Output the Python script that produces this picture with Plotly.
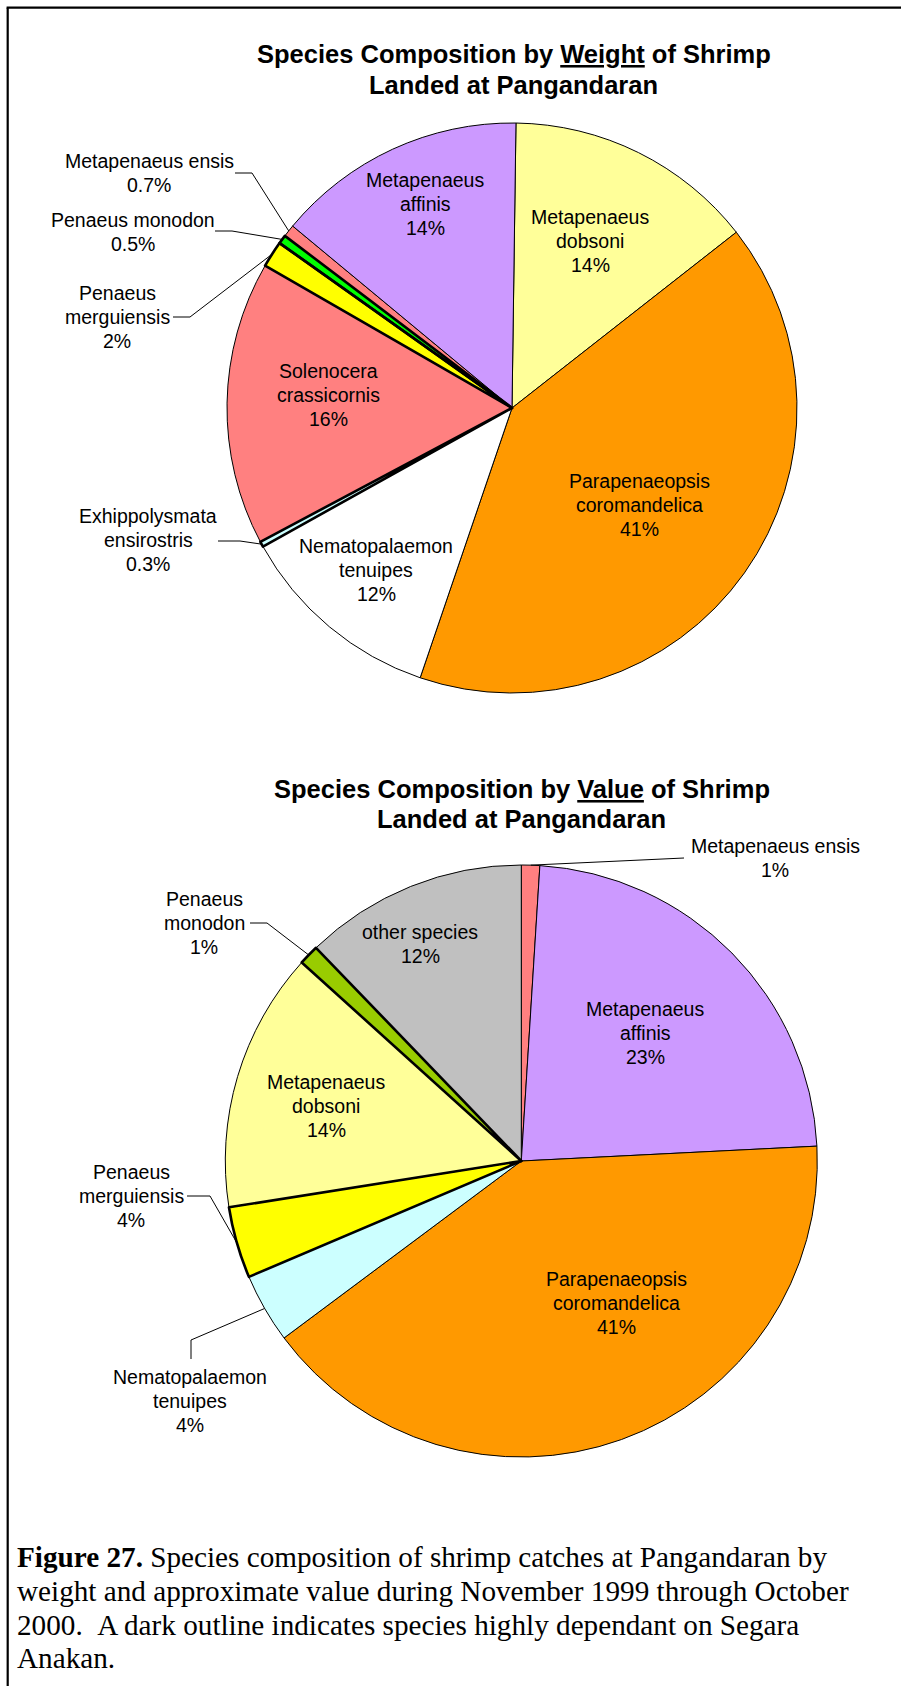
import math
import plotly.graph_objects as go

W, H = 901, 1686

# ---------------- data ----------------
weight_species = ["Metapenaeus dobsoni", "Parapenaeopsis coromandelica", "Nematopalaemon tenuipes",
                  "Exhippolysmata ensirostris", "Solenocera crassicornis", "Penaeus merguiensis",
                  "Penaeus monodon", "Metapenaeus ensis", "Metapenaeus affinis"]
weight_pct = [14.2, 40.8, 11.7, 0.3, 16.1, 1.5, 0.5, 0.7, 14.2]
weight_dependent = [False, False, False, True, False, True, True, False, False]

value_species = ["Metapenaeus ensis", "Metapenaeus affinis", "Parapenaeopsis coromandelica",
                 "Nematopalaemon tenuipes", "Penaeus merguiensis", "Metapenaeus dobsoni",
                 "Penaeus monodon", "other species"]
value_pct = [1.0, 23.2, 40.6, 3.8, 3.9, 14.2, 1.1, 12.2]
value_dependent = [False, False, False, False, True, False, True, False]

weight_title = ["Species Composition by <u>Weight</u> of Shrimp", "Landed at Pangandaran"]
value_title = ["Species Composition by <u>Value</u> of Shrimp", "Landed at Pangandaran"]
caption_lines = ["<b>Figure 27.</b> Species composition of shrimp catches at Pangandaran by",
                 "weight and approximate value during November 1999 through October",
                 "2000. \u00a0A dark outline indicates species highly dependant on Segara",
                 "Anakan."]

# ---------------- styles ----------------
weight_colors = ["#FFFF99", "#FF9900", "#FFFFFF", "#CCFFFF", "#FF8080", "#FFFF00", "#00FF00", "#FF8080", "#CC99FF"]
value_colors = ["#FF8080", "#CC99FF", "#FF9900", "#CCFFFF", "#FFFF00", "#FFFF99", "#99CC00", "#C0C0C0"]
weight_wrap = [True, True, True, True, True, True, False, False, True]
value_wrap = [False, True, True, True, True, True, True, False]

# pie geometry (pixels): center x, center y, radius, rotation
weight_geo = (512.0, 408.0, 285.0, 0.8)
value_geo = (521.3, 1161.0, 296.0, 0.0)

# label block centres (pixels)
weight_label_pos = [(590, 241), (639, 505), (376, 570), (148, 540), (328, 395),
                    (117, 317), (133, 232), (149, 173), (425, 204)]
value_label_pos = [(775, 858), (645, 1033), (616, 1303), (190, 1401), (131, 1196),
                   (326, 1106), (204, 923), (420, 944)]
# leader lines: intermediate points, ending at the slice edge
weight_leaders = {3: [(218, 541), (240, 541)], 5: [(173, 317), (190, 317)],
                  6: [(215, 231), (232, 231)], 7: [(235, 173), (252, 173)]}
value_leaders = {0: [(684, 858)], 6: [(250, 923), (267, 923)],
                 4: [(187, 1196), (210, 1196)], 3: [(191, 1359), (191, 1340)]}

LABEL_FONT = dict(family="Liberation Sans, Arial, sans-serif", size=19.5, color="black")
TITLE_FONT = dict(family="Liberation Sans, Arial, sans-serif", size=25.5, color="black")
CAP_FONT = dict(family="Liberation Serif, Times New Roman, serif", size=29.2, color="black")
LINE_H = 23.8


def px(x):
    return x / W


def py(y):
    return 1 - y / H


def fmt_pct(v):
    return f"{v:.1f}%" if v < 1 else f"{int(v + 0.5)}%"


fig = go.Figure()
annotations = []
shapes = []


def add_pie(names, vals, colors, dep, geo):
    cx, cy, r, rot = geo
    dom = dict(x=[px(cx - r), px(cx + r)], y=[py(cy + r), py(cy - r)])
    fig.add_trace(go.Pie(labels=names, values=vals, sort=False, direction="clockwise", rotation=rot,
                         marker=dict(colors=colors, line=dict(color="black", width=1)),
                         textinfo="none", domain=dom, showlegend=False,
                         hovertemplate="%{label}: %{value}%<extra></extra>"))
    fig.add_trace(go.Pie(labels=names, values=vals, sort=False, direction="clockwise", rotation=rot,
                         marker=dict(colors=["rgba(0,0,0,0)"] * len(vals),
                                     line=dict(color="black", width=[2.6 if d else 0 for d in dep])),
                         textinfo="none", domain=dom, showlegend=False, hoverinfo="skip"))


def edge_point(vals, idx, geo):
    cx, cy, r, rot = geo
    tot = sum(vals)
    start = sum(vals[:idx])
    mid = rot + 360.0 * (start + vals[idx] / 2) / tot
    a = math.radians(mid)
    return (cx + r * math.sin(a), cy - r * math.cos(a))


def add_labels(names, vals, wrap, pos):
    for name, v, w, (lx, ly) in zip(names, vals, wrap, pos):
        lines = (name.split(" ") if w else [name]) + [fmt_pct(v)]
        n = len(lines)
        for i, t in enumerate(lines):
            yy = ly + (i - (n - 1) / 2) * LINE_H
            annotations.append(dict(x=px(lx), y=py(yy), xref="paper", yref="paper", text=t,
                                    showarrow=False, xanchor="center", yanchor="middle", font=LABEL_FONT))


def add_leaders(vals, leaders, geo):
    for idx, pts in leaders.items():
        e = edge_point(vals, idx, geo)
        path_pts = list(pts) + [e]
        for (x0, y0), (x1, y1) in zip(path_pts[:-1], path_pts[1:]):
            shapes.append(dict(type="line", xref="paper", yref="paper", x0=px(x0), y0=py(y0),
                               x1=px(x1), y1=py(y1), line=dict(color="black", width=1)))


def add_title(lines, x, ys):
    for t, yy in zip(lines, ys):
        annotations.append(dict(x=px(x), y=py(yy), xref="paper", yref="paper", text="<b>" + t + "</b>",
                                showarrow=False, xanchor="center", yanchor="middle", font=TITLE_FONT))


add_pie(weight_species, weight_pct, weight_colors, weight_dependent, weight_geo)
add_pie(value_species, value_pct, value_colors, value_dependent, value_geo)
add_labels(weight_species, weight_pct, weight_wrap, weight_label_pos)
add_labels(value_species, value_pct, value_wrap, value_label_pos)
add_leaders(weight_pct, weight_leaders, weight_geo)
add_leaders(value_pct, value_leaders, value_geo)
add_title(weight_title, 513.5, [53.5, 85])
add_title(value_title, 521.5, [788.5, 818.5])

cap_y = [1557, 1591, 1624.5, 1658]
for t, yy in zip(caption_lines, cap_y):
    annotations.append(dict(x=px(15), y=py(yy), xref="paper", yref="paper", text=t, showarrow=False,
                            xanchor="left", yanchor="middle", font=CAP_FONT))

# figure frame (open at right and bottom as in the source page)
shapes.append(dict(type="line", xref="paper", yref="paper", x0=px(6.6), y0=py(7.7), x1=1.0, y1=py(7.7),
                   line=dict(color="black", width=2.2)))
shapes.append(dict(type="line", xref="paper", yref="paper", x0=px(7.7), y0=py(7.7), x1=px(7.7), y1=0.0,
                   line=dict(color="black", width=2.2)))

fig.update_layout(width=W, height=H, margin=dict(l=0, r=0, t=0, b=0),
                  paper_bgcolor="white", plot_bgcolor="white",
                  annotations=annotations, shapes=shapes, showlegend=False)

fig.write_html("out.html", config={"displayModeBar": False},
               post_script="document.body.style.margin='0px';")
